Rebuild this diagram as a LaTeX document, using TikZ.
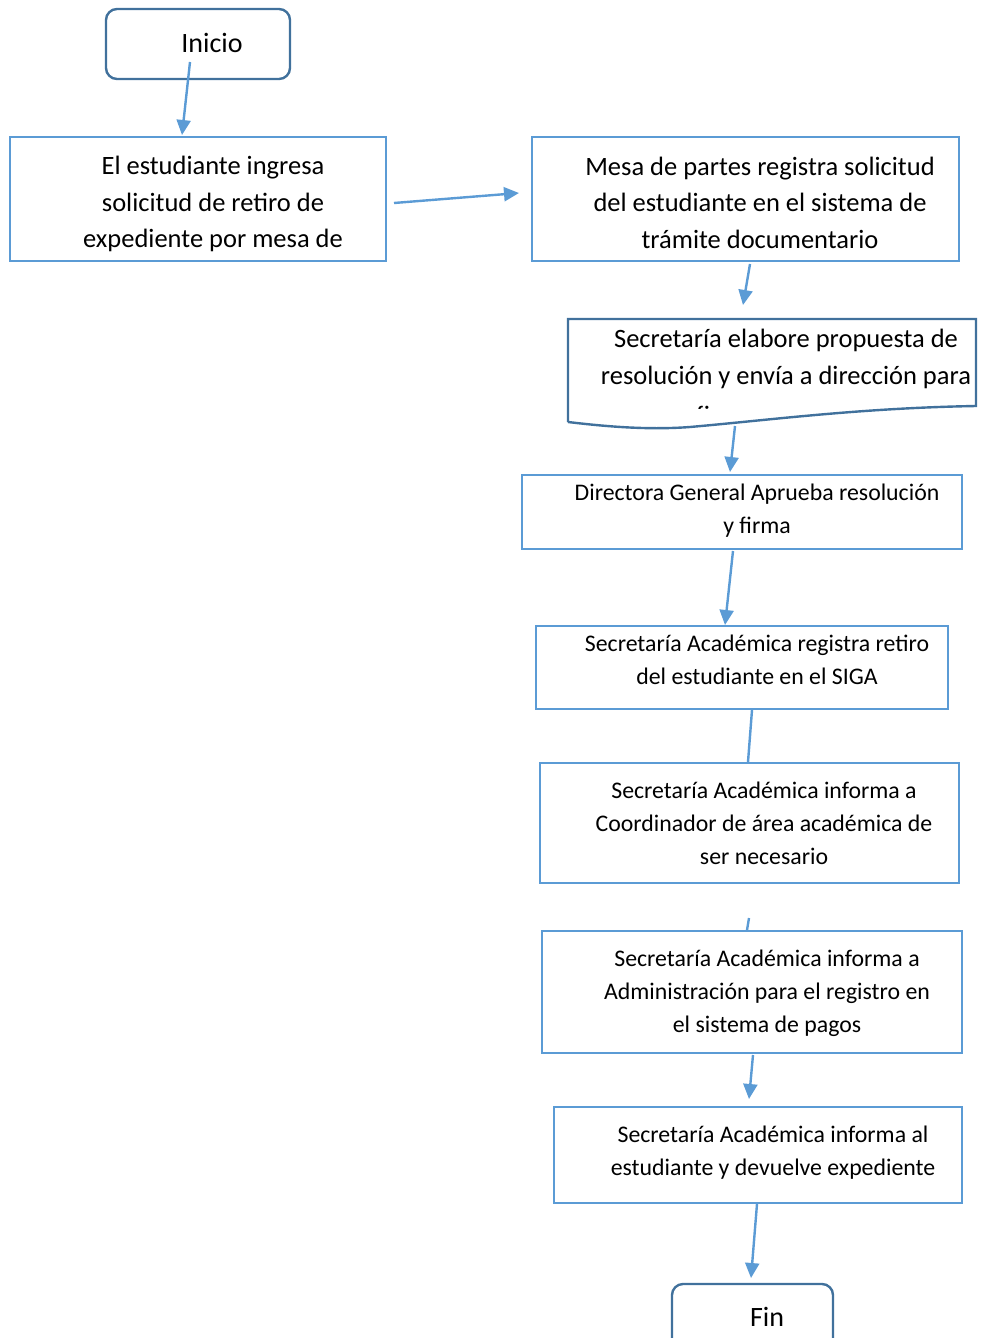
\documentclass[tikz,border=0pt]{standalone}
\usepackage{fontspec}
\setmainfont{Carlito}
\usetikzlibrary{arrows.meta}
\definecolor{boxblue}{HTML}{5B9BD5}
\definecolor{termblue}{HTML}{41719C}

\begin{document}
\begin{tikzpicture}[x=1pt,y=-1pt,
  flowbox/.style={draw=boxblue, line width=2.4pt, inner sep=0pt},
  termbox/.style={draw=termblue, line width=2.4pt, rounded corners=11pt, inner sep=0pt},
  bigtxt/.style={align=center, font=\fontsize{26.5}{36.5}\selectfont, inner sep=0pt},
  smalltxt/.style={align=center, font=\fontsize{23.8}{33}\selectfont, inner sep=0pt},
  flowarrow/.style={draw=boxblue, line width=2.4pt, -{Triangle[length=15pt,width=14pt]}},
  flowline/.style={draw=boxblue, line width=2.4pt}]

\clip (0,0) rectangle (980,1338);

% terminal boxes
\node[termbox, minimum width=184pt, minimum height=70pt] (inicio) at (198,44) {};
\node[bigtxt, font=\fontsize{28}{34}\selectfont] (inicioT) at (212,42.5) {Inicio};
\node[termbox, minimum width=161pt, minimum height=68pt] (fin) at (752.5,1318) {};
\node[bigtxt, font=\fontsize{28}{34}\selectfont] (finT) at (767,1316.5) {Fin};

% process boxes
\node[flowbox, minimum width=376pt, minimum height=124pt] (b1) at (198,199) {};
\node[bigtxt] (b1T) at (213,204) {El estudiante ingresa\\solicitud de retiro de\\expediente por mesa de};

\node[flowbox, minimum width=427pt, minimum height=124pt] (b2) at (745.5,199) {};
\node[bigtxt] (b2T) at (760,202.5) {Mesa de partes registra solicitud\\del estudiante en el sistema de\\trámite documentario};

% document shape
\draw[draw=termblue, line width=2.4pt] (568,422) -- (568,319) -- (976,319) -- (976,406)
  .. controls (860,408) and (770,420) .. (690,427)
  .. controls (650,430) and (610,427) .. (568,422);
\node[bigtxt] (docT) at (786,359) {Secretaría elabore propuesta de\\resolución y envía a dirección para};
\begin{scope}
  \clip (570,321) rectangle (974,408);
  \node[bigtxt, anchor=base west] (docT3) at (696,424.5) {firma};
\end{scope}

\node[flowbox, minimum width=440pt, minimum height=74pt] (b3) at (742,512) {};
\node[smalltxt] (b3T) at (757,511) {Directora General Aprueba resolución\\y firma};

\node[flowbox, minimum width=412pt, minimum height=83pt] (b4) at (742,667.5) {};
\node[smalltxt] (b4T) at (757,660) {Secretaría Académica registra retiro\\del estudiante en el SIGA};

\node[flowbox, minimum width=419pt, minimum height=120pt] (b5) at (749.5,823) {};
\node[smalltxt] (b5T) at (764,823) {Secretaría Académica informa a\\Coordinador de área académica de\\ser necesario};

\node[flowbox, minimum width=420pt, minimum height=122pt] (b6) at (752,992) {};
\node[smalltxt] (b6T) at (767,993) {Secretaría Académica informa a\\Administración para el registro en\\el sistema de pagos};

\node[flowbox, minimum width=408pt, minimum height=96pt] (b7) at (758,1155) {};
\node[smalltxt] (b7T) at (773,1153) {Secretaría Académica informa al\\estudiante y devuelve expediente};

% connector end points
\coordinate (c0a) at (190,62);   \coordinate (c0b) at (182,135);
\coordinate (c1a) at (394,203);  \coordinate (c1b) at (519,193);
\coordinate (c2a) at (750,264);  \coordinate (c2b) at (743,305);
\coordinate (c3a) at (735,426);  \coordinate (c3b) at (730,472);
\coordinate (c4a) at (733,551);  \coordinate (c4b) at (725,625);
\coordinate (c5a) at (752,710);  \coordinate (c5b) at (748,762);
\coordinate (c6a) at (749,918);  \coordinate (c6b) at (747,930);
\coordinate (c7a) at (753,1055); \coordinate (c7b) at (749,1099);
\coordinate (c8a) at (757,1204); \coordinate (c8b) at (751,1278);

% connectors
\draw[flowarrow] (c0a) -- (c0b);
\draw[flowarrow] (c1a) -- (c1b);
\draw[flowarrow] (c2a) -- (c2b);
\draw[flowarrow] (c3a) -- (c3b);
\draw[flowarrow] (c4a) -- (c4b);
\draw[flowline]  (c5a) -- (c5b);
\draw[flowline]  (c6a) -- (c6b);
\draw[flowarrow] (c7a) -- (c7b);
\draw[flowarrow] (c8a) -- (c8b);
\end{tikzpicture}
\end{document}
